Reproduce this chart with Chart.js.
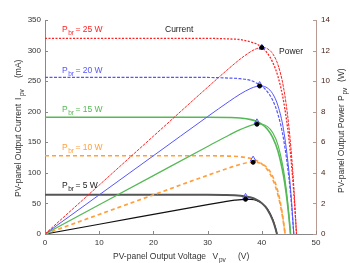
<!DOCTYPE html>
<html>
<head>
<meta charset="utf-8">
<script src="https://cdn.jsdelivr.net/npm/chart.js@4"></script>
<style>
  html, body { margin: 0; padding: 0; background: #fff; }
  canvas { display: block; }
</style>
</head>
<body>
<canvas id="graphPV" width="350" height="263"></canvas>
<script>
// Données : tension (V), courant (mA), puissance (W)
const v25 = [0, 10, 20, 30, 34, 36, 38, 39, 40, 41, 42, 43, 44, 45, 45.8, 46.4];
const i25 = [320, 320, 320, 320, 319, 318, 314, 311, 305, 296, 281, 257, 218, 156, 80, 0];
const p25 = [0, 3.2, 6.4, 9.6, 10.85, 11.44, 11.94, 12.12, 12.2, 12.13, 11.8, 11.05, 9.6, 7.02, 3.66, 0];

const v20 = [0, 10, 20, 30, 34, 36, 38, 39, 40, 41, 42, 43, 44, 45, 45.5, 45.9];
const i20 = [256, 256, 256, 256, 255, 254, 251, 247, 242, 233, 219, 195, 156, 92, 46, 0];
const p20 = [0, 2.56, 5.12, 7.68, 8.68, 9.15, 9.53, 9.65, 9.68, 9.56, 9.18, 8.37, 6.85, 4.12, 2.08, 0];

const v15 = [0, 10, 20, 30, 34, 36, 38, 39, 40, 41, 42, 43, 44, 44.5, 45, 45.3];
const i15 = [191, 191, 191, 191, 190.5, 189.6, 187.1, 184.3, 179.6, 171.7, 158, 134.8, 95.3, 66.3, 28.3, 0];
const p15 = [0, 1.91, 3.82, 5.73, 6.48, 6.83, 7.11, 7.19, 7.18, 7.04, 6.64, 5.8, 4.19, 2.95, 1.27, 0];

const v10 = [0, 10, 20, 30, 34, 36, 38, 39, 40, 41, 42, 43, 43.5, 44, 44.3];
const i10 = [128, 128, 128, 128, 127.4, 126.4, 123.4, 120.1, 114.7, 105.5, 89.9, 63.4, 44, 18.7, 0];
const p10 = [0, 1.28, 2.56, 3.84, 4.33, 4.55, 4.69, 4.68, 4.59, 4.33, 3.78, 2.73, 1.91, 0.82, 0];

const v5 = [0, 10, 20, 30, 33, 35, 37, 38, 39, 40, 41, 42, 42.5, 42.8];
const i5 = [64, 64, 64, 64, 63.7, 63.2, 61.4, 59.6, 56.3, 50.5, 40.5, 23, 9.9, 0];
const p5 = [0, 0.64, 1.28, 1.92, 2.1, 2.21, 2.27, 2.26, 2.2, 2.02, 1.66, 0.97, 0.42, 0];

// Points de puissance maximale
const mppV = [40, 39.6, 39.1, 38.4, 37];
const mppI = [305, 244, 183, 122, 61];
const mppP = [12.2, 9.68, 7.18, 4.69, 2.27];

const xTicks = [0, 10, 20, 30, 40, 50];
const iTicks = [0, 50, 100, 150, 200, 250, 300, 350];
const pTicks = [0, 2, 4, 6, 8, 10, 12, 14];

const RED = 'rgb(255, 35, 35)';
const BLUE = 'rgb(85, 85, 255)';
const GREEN = 'rgb(85, 185, 85)';
const ORANGE = 'rgb(255, 160, 60)';
const FONT = '"Liberation Sans", Arial, sans-serif';

const pts = (xs, ys) => xs.map((x, k) => ({ x: x, y: ys[k] }));

function courbe(xs, ys, axe, couleur, largeur, tirets) {
  return {
    data: pts(xs, ys),
    yAxisID: axe,
    borderColor: couleur,
    borderWidth: largeur,
    borderDash: tirets || [],
    showLine: true,
    pointRadius: 0,
    fill: false,
    cubicInterpolationMode: 'monotone'
  };
}

// Texte avec indices (P_br, V_pv ...)
function texte(ctx, morceaux, couleur) {
  ctx.fillStyle = couleur;
  ctx.textBaseline = 'alphabetic';
  ctx.textAlign = 'left';
  morceaux.forEach(m => {
    const [txt, x, sub] = m;
    ctx.font = (sub ? '6.5px ' : '8.5px ') + FONT;
    ctx.fillText(txt, x, sub ? 3 : 0);
  });
}

function etiquette(ctx, x, y, valeur, couleur) {
  ctx.save();
  ctx.translate(x, y);
  ctx.font = '8.5px ' + FONT;
  const wP = ctx.measureText('P').width;
  ctx.font = '6.5px ' + FONT;
  const wS = ctx.measureText('br').width;
  texte(ctx, [['P', 0, false], ['br', wP + 0.5, true], ['= ' + valeur + ' W', wP + wS + 2, false]], couleur);
  ctx.restore();
}

const decor = {
  id: 'decor',
  afterDraw(chart) {
    const ctx = chart.ctx;
    const { x, y, y1 } = chart.scales;
    const a = chart.chartArea;
    ctx.save();
    // graduations vers l'intérieur
    ctx.lineWidth = 1;
    ctx.strokeStyle = '#888';
    ctx.beginPath();
    xTicks.forEach(t => { const px = Math.round(x.getPixelForValue(t)) + 0.5; ctx.moveTo(px, a.bottom); ctx.lineTo(px, a.bottom - 3); });
    iTicks.forEach(t => { const py = Math.round(y.getPixelForValue(t)) + 0.5; ctx.moveTo(a.left, py); ctx.lineTo(a.left + 3, py); });
    ctx.stroke();
    ctx.strokeStyle = '#b99a92';
    ctx.beginPath();
    pTicks.forEach(t => { const py = Math.round(y1.getPixelForValue(t)) + 0.5; ctx.moveTo(a.right, py); ctx.lineTo(a.right - 3, py); });
    ctx.stroke();

    // étiquettes des courbes
    etiquette(ctx, 62, 32, 25, RED);
    etiquette(ctx, 62, 73, 20, BLUE);
    etiquette(ctx, 62, 112, 15, GREEN);
    etiquette(ctx, 62, 149.5, 10, ORANGE);
    etiquette(ctx, 62, 188, 5, '#222');
    ctx.font = '8.5px ' + FONT;
    ctx.fillStyle = '#222';
    ctx.fillText('Current', 165, 32);
    ctx.fillText('Power', 279, 54);

    // titres des axes
    ctx.save();
    ctx.translate(113, 258.5);
    texte(ctx, [['PV-panel Output Voltage', 0, false], ['V', 99.5, false], ['pv', 106, true], ['(V)', 125, false]], '#333');
    ctx.restore();

    ctx.save();
    ctx.translate(20.5, 197);
    ctx.rotate(-Math.PI / 2);
    texte(ctx, [['PV-panel Output Current', 0, false], ['I', 97, false], ['pv', 101, true], ['(mA)', 119, false]], '#333');
    ctx.restore();

    ctx.save();
    ctx.translate(343.5, 193);
    ctx.rotate(-Math.PI / 2);
    texte(ctx, [['PV-panel Output Power', 0, false], ['P', 92, false], ['pv', 98.5, true], ['(W)', 111, false]], '#333');
    ctx.restore();
    ctx.restore();
  }
};

const chartPV = new Chart(document.getElementById('graphPV').getContext('2d'), {
  type: 'scatter',
  data: {
    datasets: [
      {
        data: pts(mppV, mppP),
        yAxisID: 'y1',
        pointStyle: 'circle',
        pointRadius: 2,
        pointBackgroundColor: '#000',
        pointBorderColor: '#000',
        showLine: false
      },
      {
        data: pts(mppV, mppI),
        yAxisID: 'y',
        pointStyle: 'triangle',
        pointRadius: 3.3,
        pointBackgroundColor: 'rgba(255,255,255,0)',
        pointBorderColor: BLUE,
        pointBorderWidth: 1,
        showLine: false
      },
      courbe(v25, i25, 'y', RED, 1.3, [2, 1.5]),
      courbe(v25, p25, 'y1', RED, 1, [3, 1]),
      courbe(v20, i20, 'y', BLUE, 1.2, [3, 1.5]),
      courbe(v20, p20, 'y1', BLUE, 1),
      courbe(v15, i15, 'y', GREEN, 1.6),
      courbe(v15, p15, 'y1', GREEN, 1.2),
      courbe(v10, i10, 'y', ORANGE, 1.7, [4, 3]),
      courbe(v10, p10, 'y1', ORANGE, 1.7, [4, 3]),
      courbe(v5, i5, 'y', '#555', 2),
      courbe(v5, p5, 'y1', '#111', 1.2)
    ]
  },
  options: {
    responsive: false,
    animation: false,
    devicePixelRatio: 1,
    layout: { padding: { top: 20, left: 0, right: 0, bottom: 0 } },
    plugins: {
      legend: { display: false },
      tooltip: { enabled: false }
    },
    font: { family: FONT },
    scales: {
      x: {
        type: 'linear',
        min: 0, max: 50,
        afterBuildTicks: s => { s.ticks = xTicks.map(v => ({ value: v })); },
        ticks: { font: { size: 8, family: FONT }, color: '#333', padding: 4, maxRotation: 0 },
        grid: { display: false, drawTicks: false },
        border: { color: '#888', width: 1 },
        afterFit: s => { s.height = 29; }
      },
      y: {
        position: 'left',
        min: 0, max: 350,
        afterBuildTicks: s => { s.ticks = iTicks.map(v => ({ value: v })); },
        ticks: { font: { size: 8, family: FONT }, color: '#333', padding: 4 },
        grid: { display: false, drawTicks: false },
        border: { color: '#888', width: 1 },
        afterFit: s => { s.width = 45; }
      },
      y1: {
        position: 'right',
        min: 0, max: 14,
        afterBuildTicks: s => { s.ticks = pTicks.map(v => ({ value: v })); },
        ticks: { font: { size: 8, family: FONT }, color: '#4a2418', padding: 5 },
        grid: { display: false, drawTicks: false },
        border: { color: '#b99a92', width: 1 },
        afterFit: s => { s.width = 34; }
      }
    }
  },
  plugins: [decor]
});
</script>
</body>
</html>
